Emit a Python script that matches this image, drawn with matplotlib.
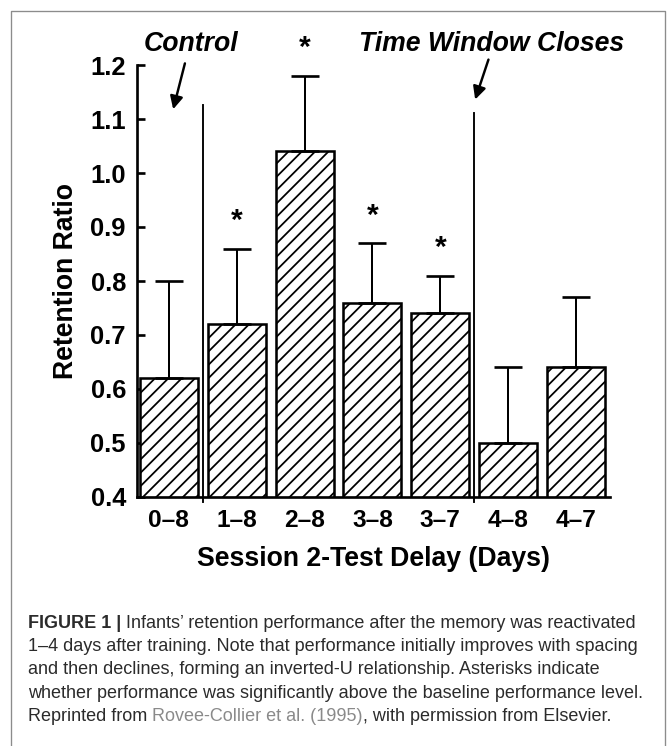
import numpy as np
import matplotlib
matplotlib.use('Agg')
import matplotlib.pyplot as plt
from matplotlib.lines import Line2D

plt.rcParams['font.family'] = ['Liberation Sans', 'DejaVu Sans']
plt.rcParams['hatch.linewidth'] = 1.6

# data
delays = ['0\u20138', '1\u20138', '2\u20138', '3\u20138', '3\u20137', '4\u20138', '4\u20137']
ratio = [0.62, 0.72, 1.04, 0.76, 0.74, 0.50, 0.64]
err_top = [0.80, 0.86, 1.18, 0.87, 0.81, 0.64, 0.77]
significant = [False, True, True, True, True, False, False]
divider_x = [0.5, 4.5]
divider_top = [1.126, 1.111]

W, H = 670, 746
DPI = 80
fig = plt.figure(figsize=(W / DPI, H / DPI), dpi=DPI)

def fx(px):
    return px / W

def fy(py):
    return 1 - py / H

ax = fig.add_axes([fx(137), fy(497), fx(610 - 137), (497 - 65) / H])
x = np.arange(len(delays))
ratio = np.array(ratio)
err_top = np.array(err_top)

ax.bar(x, ratio, width=0.855, color='white', edgecolor='black',
       linewidth=2.3, hatch='//', zorder=2)
ax.errorbar(x, ratio, yerr=[np.zeros(len(x)), err_top - ratio], fmt='none',
            ecolor='black', elinewidth=1.8, capsize=13, capthick=2.4, zorder=3)

for xi, top, sig in zip(x, err_top, significant):
    if sig:
        ax.text(xi, top + 0.077, '*', ha='center', va='top', fontsize=27,
                fontweight='bold', clip_on=False)

for dx, dt in zip(divider_x, divider_top):
    ax.plot([dx, dx], [0.39, dt], color='black', lw=1.7, clip_on=False, zorder=4)

arrow = dict(arrowstyle='-|>', lw=2.2, color='black', mutation_scale=24,
             shrinkA=0, shrinkB=0)
ax.annotate('', xy=(0.063, 1.118), xytext=(0.236, 1.203), arrowprops=arrow,
            annotation_clip=False)
ax.annotate('', xy=(4.513, 1.136), xytext=(4.709, 1.210), arrowprops=arrow,
            annotation_clip=False)
ax.text(0.332, 1.226, 'Control', ha='center', va='baseline', fontsize=24,
        fontweight='bold', fontstyle='italic', clip_on=False)
ax.text(4.749, 1.226, 'Time Window Closes', ha='center', va='baseline',
        fontsize=24, fontweight='bold', fontstyle='italic', clip_on=False)

ax.set_xlim(-0.47, 6.5)
ax.set_ylim(0.4, 1.2)
ax.set_yticks(np.arange(0.4, 1.21, 0.1))
ax.set_yticklabels(['%.1f' % v for v in np.arange(0.4, 1.21, 0.1)])
ax.set_xticks(x)
ax.set_xticklabels(delays)
for s in ['top', 'right']:
    ax.spines[s].set_visible(False)
for s in ['left', 'bottom']:
    ax.spines[s].set_linewidth(2.4)
    ax.spines[s].set_zorder(5)
ax.tick_params(axis='y', direction='in', length=7, width=2.4, pad=10,
               labelsize=23)
ax.tick_params(axis='x', length=0, pad=11, labelsize=22)
for lab in ax.get_xticklabels() + ax.get_yticklabels():
    lab.set_fontweight('bold')
ax.set_xlabel('Session 2-Test Delay (Days)', fontsize=24, fontweight='bold',
              labelpad=12)
ax.set_ylabel('Retention Ratio', fontsize=24, fontweight='bold', labelpad=10)

# frame around the figure
fig.add_artist(Line2D([fx(11), fx(11), fx(665), fx(665)],
                      [fy(H + 5), fy(11), fy(11), fy(H + 5)],
                      transform=fig.transFigure, color='#8c8c8c', lw=1.2))

# caption
cap = fig.add_axes([0, 0, 1, 1], zorder=-1)
cap.axis('off')
cap_kw = dict(fontsize=16.2, color='#2b2b2b')
base = [628, 651.2, 674.4, 697.6, 720.8]

t = cap.text(fx(28), fy(base[0]), 'FIGURE 1 |', va='baseline', ha='left',
             fontweight='bold', **cap_kw)
cap.annotate(' Infants\u2019 retention performance after the memory was reactivated',
             xy=(1, 0), xycoords=t, va='bottom', ha='left', **cap_kw)
cap.text(fx(28), fy(base[1]),
         '1\u20134 days after training. Note that performance initially improves with spacing',
         va='baseline', ha='left', **cap_kw)
cap.text(fx(28), fy(base[2]),
         'and then declines, forming an inverted-U relationship. Asterisks indicate',
         va='baseline', ha='left', **cap_kw)
cap.text(fx(28), fy(base[3]),
         'whether performance was significantly above the baseline performance level.',
         va='baseline', ha='left', **cap_kw)
t = cap.text(fx(28), fy(base[4]), 'Reprinted from ', va='baseline', ha='left',
             **cap_kw)
t = cap.annotate('Rovee-Collier et al. (1995)', xy=(1, 0), xycoords=t,
                 va='bottom', ha='left', fontsize=16.2, color='#8a8a8a')
cap.annotate(', with permission from Elsevier.', xy=(1, 0), xycoords=t,
             va='bottom', ha='left', **cap_kw)

fig.savefig('out.png', dpi=DPI)
